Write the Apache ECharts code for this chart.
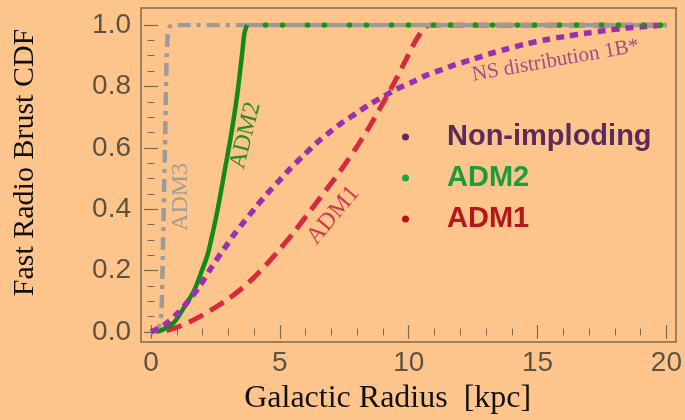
<!DOCTYPE html>
<html>
<head>
<meta charset="utf-8">
<script src="https://cdn.jsdelivr.net/npm/echarts@6/dist/echarts.min.js"></script>
<style>html,body{margin:0;padding:0;background:#fdc58b;}#c{width:685px;height:420px;}</style>
</head>
<body>
<div id="c"></div>
<script>
// ---- data ----
const xTicks = [0, 5, 10, 15, 20];
const yTicks = [0, 0.2, 0.4, 0.6, 0.8, 1.0];
const nonImploding = [[0,0],[0.58,0.027],[1.03,0.061],[1.48,0.104],[1.87,0.147],[2.38,0.215],[2.83,0.27],[3.22,0.317],[3.6,0.358],[4.05,0.405],[4.5,0.45],[5.0,0.495],[5.4,0.532],[5.92,0.575],[6.44,0.617],[6.95,0.652],[7.46,0.685],[7.98,0.713],[8.49,0.742],[9.0,0.766],[9.5,0.79],[10.17,0.815],[10.68,0.836],[11.3,0.855],[11.78,0.87],[12.48,0.888],[13.13,0.906],[13.77,0.921],[14.54,0.938],[15.32,0.952],[16.09,0.963],[16.86,0.973],[17.63,0.982],[18.4,0.99],[19.18,0.995],[20,1.0]];
const adm2 = [[0.2,0],[0.51,0.01],[0.9,0.032],[1.29,0.081],[1.67,0.134],[1.93,0.19],[2.19,0.25],[2.4,0.325],[2.6,0.405],[2.83,0.512],[3.09,0.633],[3.35,0.775],[3.54,0.91],[3.63,0.975],[3.73,1.0]];
const adm2Plateau = [[3.73,1.0],[20,1.0]];
const adm1 = [[0.6,0.005],[1.0,0.015],[1.5,0.033],[2.0,0.055],[2.5,0.08],[3.0,0.108],[3.5,0.14],[4.0,0.178],[4.5,0.222],[5.0,0.27],[5.5,0.32],[6.0,0.375],[6.5,0.43],[7.0,0.485],[7.5,0.543],[8.0,0.605],[8.5,0.672],[9.0,0.745],[9.5,0.822],[9.9,0.888],[10.2,0.938],[10.45,0.973],[10.65,0.993],[10.81,1.0],[20,1.0]];
const adm3 = [[0,0],[0.2,0.005],[0.34,0.025],[0.41,0.07],[0.47,0.3],[0.54,0.6],[0.6,0.87],[0.65,0.965],[0.73,0.995],[0.86,1.0],[3.73,1.0]];
const adm3Plateau = [[3.73,1.0],[20,1.0]];
const legendNames = ['Non-imploding', 'ADM2', 'ADM1'];
const annotations = [
  {text: 'ADM3', x: 1.16, y: 0.44, rot: 90, color: '#a09c96', size: 24},
  {text: 'ADM2', x: 3.67, y: 0.64, rot: 76, color: '#2b8a2b', size: 24},
  {text: 'ADM1', x: 7.07, y: 0.38, rot: 50, color: '#cc3a48', size: 24},
  {text: 'NS distribution 1B*', x: 15.7, y: 0.884, rot: 10, color: '#a44a8c', size: 21}
];

const frameColor = '#7c6b54';
const labelColor = '#5e5343';
const chart = echarts.init(document.getElementById('c'));

const tickCommon = {
  axisLine: {show: false},
  axisTick: {show: true, inside: true, length: 7, lineStyle: {color: frameColor, width: 1.2}},
  splitLine: {show: false},
  minorSplitLine: {show: false}
};
const minorX = {minorTick: {show: true, splitNumber: 5, length: 3.5, lineStyle: {color: frameColor, width: 1}}};
const minorY = {minorTick: {show: true, splitNumber: 4, length: 3.5, lineStyle: {color: frameColor, width: 1}}};

chart.setOption({
  backgroundColor: '#fdc58b',
  animation: false,
  grid: [
    {left: 151, right: 17, top: 25, bottom: 85},
    {left: 141, right: 9, top: 8, bottom: 78, show: true, borderColor: frameColor, borderWidth: 1.5, backgroundColor: 'transparent'}
  ],
  xAxis: [
    Object.assign({type: 'value', gridIndex: 0, position: 'bottom', min: 0, max: 20, interval: 5, offset: 7,
      axisLabel: {show: true, fontSize: 28, color: labelColor, fontFamily: 'Liberation Sans', margin: 10},
      name: 'Galactic Radius  [kpc]', nameLocation: 'middle', nameGap: 44,
      nameTextStyle: {fontFamily: 'Liberation Serif', fontSize: 32, color: '#111', padding: [0, 42, 0, 0]}}, tickCommon, minorX),
    Object.assign({type: 'value', gridIndex: 0, position: 'top', min: 0, max: 20, interval: 5, offset: 17,
      axisLabel: {show: false}}, tickCommon, minorX),
    {type: 'value', gridIndex: 1, show: false, min: 0, max: 1}
  ],
  yAxis: [
    Object.assign({type: 'value', gridIndex: 0, position: 'left', min: 0, max: 1, interval: 0.2, offset: 10,
      axisLabel: {show: true, fontSize: 28, color: labelColor, fontFamily: 'Liberation Sans', margin: 10,
        formatter: v => v.toFixed(1)},
      name: 'Fast Radio Brust CDF', nameLocation: 'middle', nameGap: 101,
      nameTextStyle: {fontFamily: 'Liberation Serif', fontSize: 30, color: '#111', padding: [0, 0, 0, 32]}}, tickCommon, minorY),
    Object.assign({type: 'value', gridIndex: 0, position: 'right', min: 0, max: 1, interval: 0.2, offset: 8,
      axisLabel: {show: false}}, tickCommon, minorY),
    {type: 'value', gridIndex: 1, show: false, min: 0, max: 1}
  ],
  legend: {
    orient: 'vertical', left: 397, top: 117, icon: 'circle', itemWidth: 7, itemHeight: 7, itemGap: 11,
    selectedMode: false,
    textStyle: {fontSize: 29, fontWeight: 'bold', fontFamily: 'Liberation Sans', lineHeight: 30, padding: [0, 0, 0, 33]},
    data: [
      {name: legendNames[0], itemStyle: {color: '#5b2e60', borderWidth: 0}, textStyle: {color: '#5b2b5f'}},
      {name: legendNames[1], itemStyle: {color: '#1ea33f', borderWidth: 0}, textStyle: {color: '#1f9b3c'}},
      {name: legendNames[2], itemStyle: {color: '#b41212', borderWidth: 0}, textStyle: {color: '#b3161b'}}
    ]
  },
  series: [
    {name: 'ADM1', type: 'line', data: adm1, smooth: 0.3, showSymbol: false, symbol: 'none',
      lineStyle: {color: '#d42c3e', width: 5, type: [16, 8]}, itemStyle: {color: '#b41212'}},
    {name: 'ADM3', type: 'line', data: adm3, smooth: 0.2, showSymbol: false, symbol: 'none',
      lineStyle: {color: '#9c9b98', width: 4.5, type: [13, 6, 4, 6]}},
    {name: 'ADM3 top', type: 'line', data: adm3Plateau, showSymbol: false, symbol: 'none',
      lineStyle: {color: '#9c9b98', width: 4.5}},
    {name: 'ADM2', type: 'line', data: adm2, smooth: 0.3, showSymbol: false, symbol: 'none',
      lineStyle: {color: '#128a16', width: 4.5}, itemStyle: {color: '#1ea33f'}},
    {name: 'Non-imploding', type: 'line', data: nonImploding, smooth: 0.3, showSymbol: false, symbol: 'none',
      lineStyle: {color: '#9b2fae', width: 5.5, type: [8, 6]}, itemStyle: {color: '#5b2e60'}},
    {name: 'ADM2', type: 'line', data: adm2Plateau, showSymbol: false, symbol: 'none',
      lineStyle: {color: '#0f9a12', width: 5.5, type: [0.1, 41.9], dashOffset: 23.7, cap: 'round'}},
    {name: 'ADM2', type: 'line', data: adm2Plateau, showSymbol: false, symbol: 'none',
      lineStyle: {color: '#0f9a12', width: 5.5, type: [0.1, 41.9], dashOffset: 6.7, cap: 'round'}}
  ]
});

const graphics = annotations.map(a => {
  const p = chart.convertToPixel({xAxisIndex: 0, yAxisIndex: 0}, [a.x, a.y]);
  return {type: 'text', x: p[0], y: p[1], rotation: a.rot * Math.PI / 180, z: 100,
    style: {text: a.text, fill: a.color, font: a.size + 'px "Liberation Serif"', align: 'center', verticalAlign: 'middle'}};
});
chart.setOption({graphic: graphics});
</script>
</body>
</html>
